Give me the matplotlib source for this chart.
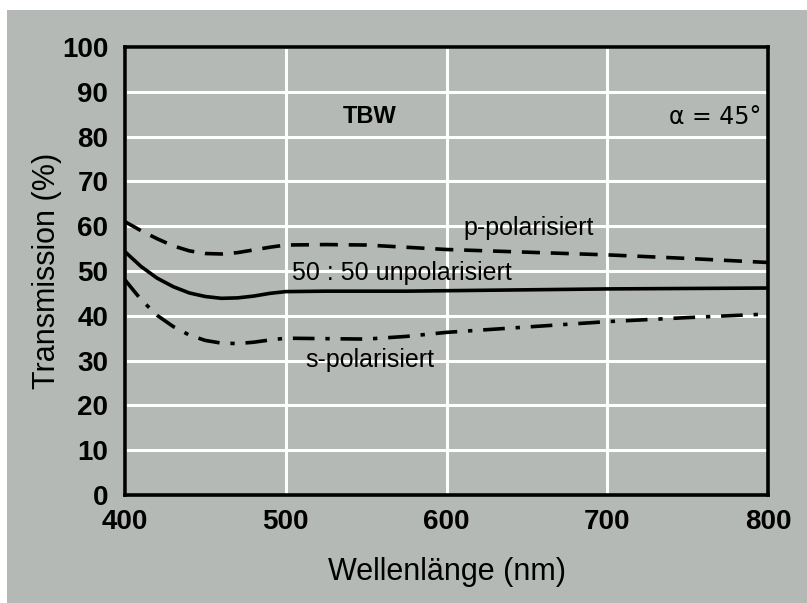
import matplotlib
matplotlib.use("Agg")
import matplotlib.pyplot as plt
from matplotlib.patches import Rectangle
from matplotlib import font_manager

wl = [400, 410, 420, 430, 440, 450, 460, 470, 480, 490, 500,
      525, 550, 575, 600, 650, 700, 750, 800]
p_pol = [61.0, 59.0, 57.2, 55.6, 54.5, 53.9, 53.8, 54.1, 54.7, 55.3, 55.8,
         55.9, 55.8, 55.3, 54.8, 54.2, 53.6, 52.8, 51.9]
unpol = [54.3, 51.0, 48.4, 46.5, 45.1, 44.3, 43.9, 44.0, 44.4, 45.0, 45.4,
         45.5, 45.5, 45.5, 45.6, 45.8, 46.0, 46.1, 46.2]
s_pol = [48.0, 43.6, 40.1, 37.6, 35.7, 34.5, 33.9, 33.8, 34.1, 34.6, 35.0,
         34.9, 34.8, 35.4, 36.3, 37.5, 38.7, 39.6, 40.4]

x_ticks = [400, 500, 600, 700, 800]
y_ticks = list(range(0, 101, 10))

names = {f.name for f in font_manager.fontManager.ttflist}
tick_font = "Liberation Sans Narrow" if "Liberation Sans Narrow" in names else "Liberation Sans"

bg = "#b4b9b5"
fig = plt.figure(figsize=(8.07, 6.03), dpi=100)
fig.patch.set_facecolor("white")
# grauer Hintergrund
fig.patches.append(Rectangle((7 / 807, 0), 1, 1 - 10 / 603, transform=fig.transFigure,
                             facecolor=bg, edgecolor="none", zorder=-10))

ax = fig.add_axes([125 / 807, 1 - 495 / 603, (768 - 125) / 807, (495 - 47) / 603])
ax.set_facecolor(bg)

ax.plot(wl, p_pol, color="black", lw=2.6, linestyle=(0, (5, 3)))
ax.plot(wl, unpol, color="black", lw=2.6, linestyle="-")
ax.plot(wl, s_pol, color="black", lw=2.6, linestyle=(0, (6, 3, 1.2, 3)))

ax.set_xlim(400, 800)
ax.set_ylim(0, 100)
ax.set_xticks(x_ticks)
ax.set_yticks(y_ticks)
ax.grid(True, color="white", lw=2.2)
ax.set_axisbelow(True)
ax.tick_params(axis="x", length=0, pad=10)
ax.tick_params(axis="y", length=0, pad=12)
for lab in ax.get_xticklabels() + ax.get_yticklabels():
    lab.set_fontfamily(tick_font)
    lab.set_fontsize(20)
    lab.set_fontweight("bold")
for sp in ax.spines.values():
    sp.set_linewidth(2.6)
    sp.set_color("black")

ax.set_xlabel("Wellenlänge (nm)", fontsize=22, family="Liberation Sans", labelpad=16)
ax.set_ylabel("Transmission (%)", fontsize=22, family="Liberation Sans", labelpad=0)

ax.text(552, 84.4, "TBW", fontsize=17, fontweight="bold", ha="center", va="center",
        family="Liberation Sans")
ax.text(767, 84.4, "α = 45°", fontsize=17, ha="center", va="center", family="DejaVu Sans")
ax.text(651, 59.6, "p-polarisiert", fontsize=18, ha="center", va="center", family="Liberation Sans")
ax.text(572, 49.6, "50 : 50 unpolarisiert", fontsize=18, ha="center", va="center",
        family="Liberation Sans")
ax.text(552, 30.1, "s-polarisiert", fontsize=18, ha="center", va="center", family="Liberation Sans")

fig.savefig("out.png", dpi=100, facecolor=fig.get_facecolor())
